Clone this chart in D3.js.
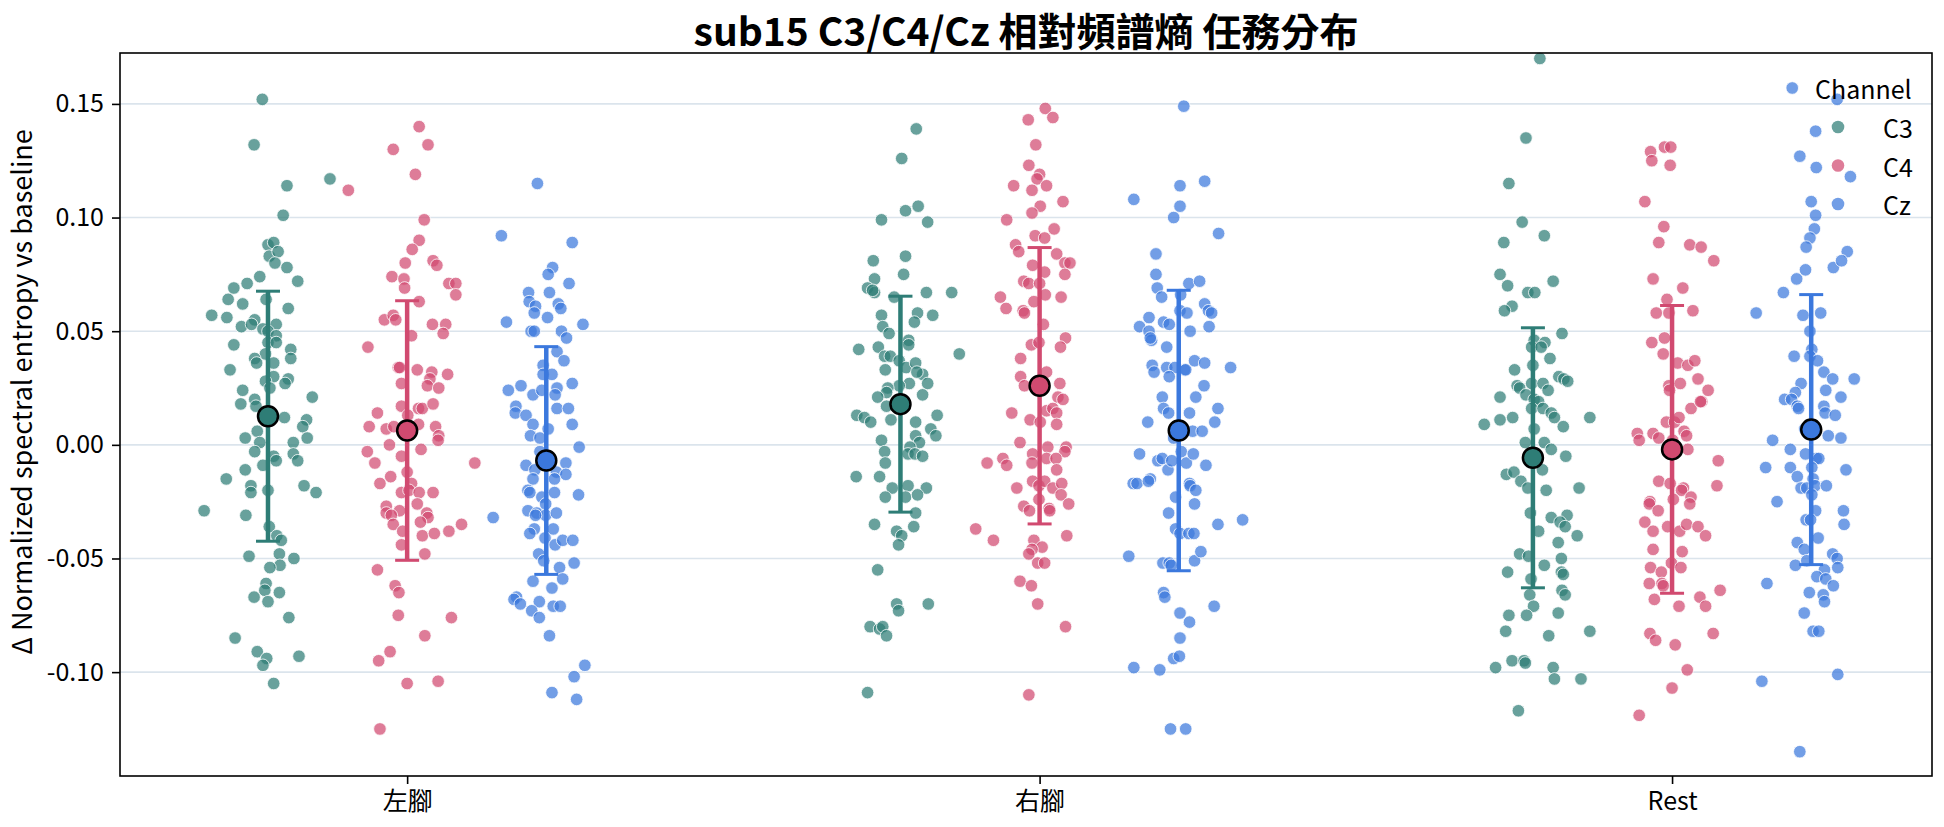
<!DOCTYPE html>
<html>
<head>
<meta charset="utf-8">
<script src="https://cdn.jsdelivr.net/npm/d3@7"></script>
<style>
  body { margin: 0; background: #fff; }
  text { font-family: "Noto Sans CJK TC", "Noto Sans", sans-serif; fill: #000; }
</style>
</head>
<body>
<div id="chart"></div>
<script>
// Categories, channels and axis ticks
const CATEGORIES = ["左腳", "右腳", "Rest"];
const CHANNELS = ["C3", "C4", "Cz"];
const Y_TICKS = [-0.10, -0.05, 0.00, 0.05, 0.10, 0.15];

// Mean and SD per channel, in category order (左腳, 右腳, Rest)
const MEAN_C3 = [0.0126, 0.0179, -0.0057];
const SD_C3 = [0.0550, 0.0475, 0.0572];
const MEAN_C4 = [0.0063, 0.0260, -0.0020];
const SD_C4 = [0.0571, 0.0608, 0.0633];
const MEAN_CZ = [-0.0069, 0.0063, 0.0067];
const SD_CZ = [0.0501, 0.0617, 0.0594];

// Trials as [jitter, value]; jitter is in category units
const LEFT_C3 = [[-0.009,0.152],[-0.022,0.132],[0.030,0.114],[0.098,0.117],[0.024,0.101],[0,0.088],[0.009,0.089],[0.002,0.083],[0.016,0.085],[0.011,0.080],[0.030,0.078],[0.047,0.072],[-0.013,0.074],[-0.033,0.071],[-0.054,0.069],[-0.063,0.064],[-0.040,0.062],[-0.003,0.064],[0.032,0.060],[-0.089,0.057],[-0.065,0.056],[-0.042,0.052],[-0.021,0.055],[-0.026,0.053],[-0.008,0.051],[0.013,0.053],[0,0.050],[0.013,0.048],[0,0.045],[0.013,0.045],[-0.054,0.044],[-0.004,0.040],[-0.021,0.038],[-0.018,0.036],[0.009,0.036],[0.036,0.042],[0.036,0.038],[-0.060,0.033],[0.009,0.030],[-0.004,0.028],[0.032,0.029],[0.027,0.027],[0.003,0.025],[-0.040,0.024],[-0.043,0.018],[-0.021,0.020],[-0.019,0.017],[0.070,0.021],[0.026,0.012],[0.061,0.011],[0.055,0.008],[0.062,0.003],[-0.036,0.003],[-0.017,0.006],[-0.013,0.001],[0.040,0.001],[-0.021,-0.003],[0.040,-0.004],[0.009,-0.005],[0.013,-0.007],[0.047,-0.007],[-0.008,-0.009],[-0.036,-0.011],[-0.066,-0.015],[-0.027,-0.018],[-0.027,-0.021],[0,-0.020],[0.057,-0.018],[0.076,-0.021],[-0.101,-0.029],[-0.035,-0.031],[0.002,-0.036],[0.014,-0.040],[0.021,-0.042],[0.018,-0.048],[-0.030,-0.049],[0.041,-0.050],[0.019,-0.053],[0.003,-0.054],[-0.003,-0.061],[-0.005,-0.064],[0.018,-0.065],[-0.022,-0.067],[0,-0.069],[0.033,-0.076],[-0.052,-0.085],[-0.017,-0.091],[-0.002,-0.094],[-0.008,-0.097],[0.049,-0.093],[0.009,-0.105]];
const LEFT_C4 = [[0.019,0.140],[-0.022,0.130],[0.033,0.132],[0.013,0.119],[-0.093,0.112],[0.027,0.099],[0.019,0.090],[0.008,0.086],[-0.003,0.080],[0.041,0.081],[0.047,0.079],[-0.024,0.074],[-0.005,0.073],[-0.004,0.069],[0.066,0.071],[0.077,0.071],[0.077,0.066],[0.019,0.063],[-0.036,0.055],[-0.022,0.057],[-0.018,0.055],[0.040,0.053],[0.061,0.053],[0.057,0.049],[0.007,0.048],[-0.062,0.043],[-0.014,0.034],[-0.012,0.034],[0.016,0.033],[0.039,0.032],[0.036,0.029],[0.064,0.031],[-0.009,0.027],[0.032,0.026],[0.050,0.025],[-0.009,0.017],[-0.047,0.014],[0.001,0.013],[0.018,0.016],[0.024,0.016],[0.041,0.018],[-0.060,0.008],[-0.033,0.007],[-0.021,0.008],[0.018,0.009],[0.045,0.008],[0.050,0.004],[0.049,0.002],[-0.028,0.000],[-0.063,-0.003],[-0.009,-0.005],[0.022,-0.002],[-0.051,-0.008],[0.107,-0.008],[0,-0.012],[-0.026,-0.014],[-0.043,-0.017],[0.007,-0.017],[-0.009,-0.021],[0.003,-0.020],[0.019,-0.021],[0.041,-0.021],[-0.033,-0.027],[-0.012,-0.029],[-0.033,-0.030],[-0.025,-0.031],[-0.022,-0.035],[0.016,-0.026],[0.031,-0.030],[0.033,-0.032],[0.021,-0.034],[-0.007,-0.038],[0.024,-0.040],[0.043,-0.039],[0.066,-0.038],[0.086,-0.035],[-0.009,-0.044],[0.028,-0.048],[-0.047,-0.055],[-0.019,-0.062],[-0.013,-0.065],[-0.014,-0.075],[0.070,-0.076],[0.028,-0.084],[-0.027,-0.091],[-0.045,-0.095],[0,-0.105],[0.049,-0.104],[-0.043,-0.125]];
const LEFT_CZ = [[-0.014,0.115],[-0.071,0.092],[0.041,0.089],[0.010,0.078],[0.003,0.075],[0.036,0.071],[-0.028,0.067],[0.005,0.067],[-0.027,0.063],[-0.017,0.061],[-0.019,0.058],[0.019,0.062],[0.023,0.060],[0.002,0.056],[-0.063,0.054],[0.058,0.053],[-0.024,0.050],[-0.019,0.050],[0.024,0.050],[0.032,0.047],[0.017,0.041],[0.028,0.037],[-0.005,0.035],[-0.005,0.031],[0.009,0.031],[-0.060,0.024],[-0.040,0.026],[-0.021,0.022],[-0.007,0.024],[0.017,0.025],[0.014,0.022],[0.041,0.027],[-0.048,0.017],[-0.049,0.014],[-0.032,0.013],[0.017,0.016],[0.035,0.016],[0.041,0.009],[-0.021,0.009],[-0.025,0.004],[-0.010,0.003],[0.003,0.007],[0.052,-0.001],[-0.010,-0.003],[-0.032,-0.009],[-0.018,-0.011],[-0.021,-0.015],[0.016,-0.012],[0.031,-0.008],[0.031,-0.013],[0.013,-0.015],[-0.029,-0.020],[-0.026,-0.021],[-0.007,-0.023],[0.013,-0.021],[0.051,-0.022],[-0.001,-0.026],[-0.029,-0.029],[-0.015,-0.030],[-0.001,-0.031],[0.016,-0.030],[-0.017,-0.031],[-0.019,-0.037],[-0.026,-0.039],[0.011,-0.037],[-0.002,-0.041],[0.014,-0.044],[0.026,-0.042],[0.042,-0.042],[-0.012,-0.048],[-0.004,-0.051],[0.044,-0.052],[0.021,-0.054],[0.026,-0.059],[-0.021,-0.060],[0.009,-0.063],[-0.047,-0.067],[-0.051,-0.068],[-0.041,-0.070],[-0.011,-0.069],[-0.023,-0.073],[-0.011,-0.076],[0.011,-0.071],[0.022,-0.071],[0.005,-0.084],[0.061,-0.097],[0.044,-0.102],[0.009,-0.109],[0.048,-0.112],[-0.084,-0.032]];
const RIGHT_C3 = [[0.025,0.139],[0.002,0.126],[-0.030,0.099],[0.008,0.103],[0.028,0.105],[0.043,0.098],[-0.043,0.081],[0.008,0.083],[0.005,0.075],[-0.041,0.073],[-0.052,0.069],[-0.041,0.067],[-0.044,0.068],[-0.010,0.065],[0.041,0.067],[0.081,0.067],[-0.030,0.057],[0.027,0.058],[0.022,0.054],[0.051,0.057],[-0.028,0.052],[-0.018,0.049],[0.013,0.046],[0.013,0.044],[-0.066,0.042],[-0.035,0.043],[-0.025,0.039],[-0.016,0.039],[-0.002,0.037],[0.009,0.034],[0.024,0.036],[-0.024,0.033],[0.035,0.031],[0.026,0.032],[0.043,0.027],[0.014,0.027],[-0.002,0.026],[-0.020,0.025],[-0.022,0.023],[-0.036,0.021],[0.035,0.022],[0.093,0.040],[-0.069,0.013],[-0.057,0.012],[-0.047,0.010],[-0.022,0.017],[-0.015,0.011],[0.024,0.010],[0.058,0.013],[0.024,0.004],[0.048,0.007],[0.056,0.004],[-0.030,0.002],[0.030,0.001],[0.015,-0.001],[0.012,-0.004],[0.023,-0.004],[0.035,-0.005],[-0.025,-0.003],[-0.024,-0.008],[-0.070,-0.014],[-0.033,-0.014],[0.012,-0.018],[0.041,-0.019],[-0.013,-0.019],[-0.024,-0.023],[0.008,-0.023],[0.027,-0.022],[-0.041,-0.035],[0.024,-0.030],[-0.006,-0.038],[0.002,-0.040],[0.021,-0.036],[-0.003,-0.044],[-0.036,-0.055],[-0.006,-0.070],[-0.003,-0.073],[0.044,-0.070],[-0.048,-0.080],[-0.033,-0.081],[-0.028,-0.080],[-0.022,-0.084],[-0.052,-0.109]];
const RIGHT_C4 = [[0.009,0.148],[-0.018,0.143],[0.021,0.144],[-0.006,0.132],[-0.017,0.123],[0,0.119],[-0.004,0.117],[0.011,0.114],[-0.041,0.114],[-0.012,0.112],[0.001,0.105],[0.037,0.107],[-0.012,0.102],[-0.052,0.099],[0.023,0.095],[-0.007,0.092],[0.008,0.091],[-0.038,0.088],[-0.033,0.085],[0.027,0.084],[-0.011,0.079],[0.008,0.076],[0.040,0.080],[0.048,0.080],[0.040,0.075],[-0.025,0.072],[-0.017,0.071],[0,0.071],[0.009,0.066],[0.034,0.065],[-0.062,0.065],[-0.053,0.060],[-0.026,0.059],[-0.024,0.058],[-0.009,0.063],[0.006,0.053],[0.041,0.047],[0.033,0.043],[-0.013,0.044],[-0.001,0.045],[-0.030,0.038],[-0.030,0.030],[-0.024,0.026],[0.011,0.032],[0.032,0.027],[0.029,0.021],[0.037,0.020],[-0.044,0.014],[-0.015,0.011],[0.001,0.010],[0.011,0.015],[0.021,0.016],[0.027,0.014],[0.027,0.009],[-0.031,0.001],[-0.011,-0.004],[0.013,-0.001],[0.042,-0.001],[0.040,-0.003],[-0.083,-0.008],[-0.058,-0.006],[-0.052,-0.009],[-0.012,-0.008],[0.011,-0.006],[0.026,-0.006],[0.027,-0.011],[-0.011,-0.016],[-0.001,-0.018],[0.008,-0.016],[0.021,-0.019],[0.035,-0.017],[-0.036,-0.019],[0.034,-0.022],[0.046,-0.026],[-0.001,-0.024],[-0.025,-0.027],[-0.016,-0.029],[0.015,-0.028],[0.016,-0.029],[-0.101,-0.037],[-0.073,-0.042],[-0.009,-0.042],[0.004,-0.045],[-0.012,-0.046],[-0.017,-0.048],[-0.003,-0.052],[0.008,-0.052],[0.043,-0.040],[-0.031,-0.060],[-0.013,-0.062],[-0.003,-0.070],[0.041,-0.080],[-0.017,-0.110]];
const RIGHT_CZ = [[0.008,0.149],[0.002,0.114],[0.041,0.116],[-0.071,0.108],[0.002,0.105],[-0.008,0.100],[0.063,0.093],[-0.036,0.084],[-0.036,0.075],[-0.034,0.069],[-0.027,0.065],[0.016,0.071],[0.033,0.072],[0.003,0.066],[0.002,0.059],[0.013,0.058],[0.041,0.062],[0.047,0.059],[0.052,0.058],[-0.047,0.056],[-0.024,0.054],[-0.015,0.053],[-0.062,0.052],[-0.047,0.050],[0.018,0.050],[0.048,0.052],[-0.043,0.046],[-0.045,0.047],[-0.019,0.043],[-0.042,0.035],[-0.039,0.032],[-0.019,0.034],[-0.006,0.034],[0.009,0.033],[0.011,0.033],[-0.015,0.030],[0.025,0.037],[0.041,0.036],[0.082,0.034],[0.040,0.026],[-0.026,0.021],[0.027,0.021],[-0.024,0.016],[-0.016,0.014],[0.017,0.014],[0.062,0.016],[-0.049,0.010],[0.057,0.010],[0.022,0.006],[0.037,0.006],[-0.008,0.003],[-0.062,-0.004],[-0.033,-0.007],[-0.026,-0.006],[-0.017,-0.011],[-0.011,-0.007],[0.004,-0.003],[0.012,-0.008],[0.023,-0.004],[0.043,-0.009],[-0.072,-0.017],[-0.066,-0.017],[-0.045,-0.015],[-0.048,-0.016],[0.017,-0.017],[0.018,-0.018],[0.027,-0.020],[-0.005,-0.023],[0.025,-0.026],[-0.016,-0.030],[-0.005,-0.037],[0.002,-0.039],[0.016,-0.039],[0.024,-0.039],[0.062,-0.035],[0.101,-0.033],[-0.079,-0.049],[-0.025,-0.052],[-0.015,-0.052],[-0.012,-0.053],[0.025,-0.051],[0.035,-0.047],[-0.024,-0.065],[-0.022,-0.067],[0.002,-0.074],[0.017,-0.078],[0.056,-0.071],[0.002,-0.085],[-0.008,-0.094],[0.001,-0.093],[-0.071,-0.098],[-0.030,-0.099],[-0.013,-0.125],[0.011,-0.125]];
const REST_C3 = [[0.011,0.170],[-0.011,0.135],[-0.038,0.115],[-0.017,0.098],[0.018,0.092],[-0.046,0.089],[-0.052,0.075],[-0.040,0.070],[0.032,0.072],[-0.008,0.067],[0.003,0.067],[-0.033,0.061],[-0.045,0.059],[0.046,0.049],[0.002,0.046],[0.019,0.045],[-0.002,0.043],[0.013,0.043],[0.027,0.038],[-0.029,0.033],[0,0.035],[0.041,0.030],[0.049,0.029],[0.055,0.028],[-0.025,0.026],[-0.021,0.025],[-0.002,0.027],[0.016,0.027],[0.024,0.024],[-0.011,0.022],[-0.052,0.021],[0.002,0.020],[0.009,0.019],[-0.002,0.016],[0.016,0.016],[0.029,0.014],[0.034,0.012],[-0.077,0.009],[-0.052,0.011],[-0.032,0.012],[0.002,0.007],[0.048,0.008],[0.090,0.012],[-0.012,0.001],[0.018,0.001],[0.029,-0.002],[0.052,-0.005],[-0.042,-0.013],[-0.030,-0.012],[-0.019,-0.016],[0.015,-0.011],[-0.008,-0.019],[0.021,-0.020],[0.073,-0.019],[-0.004,-0.030],[0.029,-0.032],[0.054,-0.031],[0.043,-0.034],[0.051,-0.036],[0.070,-0.040],[0.009,-0.038],[0.040,-0.043],[-0.021,-0.048],[-0.007,-0.049],[0.045,-0.050],[0.018,-0.053],[-0.040,-0.056],[0.045,-0.056],[0.048,-0.057],[-0.003,-0.059],[0.046,-0.064],[0.051,-0.066],[-0.005,-0.066],[0.001,-0.071],[-0.038,-0.075],[-0.010,-0.075],[0.040,-0.074],[-0.043,-0.082],[0.025,-0.084],[0.090,-0.082],[-0.059,-0.098],[-0.033,-0.095],[-0.014,-0.095],[-0.012,-0.096],[0.032,-0.098],[0.034,-0.103],[0.076,-0.103],[-0.023,-0.117]];
const REST_C4 = [[-0.034,0.129],[-0.012,0.131],[-0.002,0.131],[-0.032,0.125],[-0.003,0.123],[-0.043,0.107],[-0.013,0.096],[-0.021,0.089],[0.028,0.088],[0.046,0.087],[0.066,0.081],[-0.030,0.073],[0.017,0.069],[-0.008,0.064],[-0.025,0.058],[-0.005,0.058],[0.033,0.059],[-0.032,0.045],[-0.012,0.047],[-0.014,0.040],[0.009,0.036],[0.025,0.035],[0.036,0.037],[0.041,0.029],[0.057,0.024],[-0.005,0.026],[-0.004,0.024],[0.013,0.027],[0.030,0.016],[0.047,0.019],[0.045,0.019],[-0.055,0.005],[-0.052,0.002],[-0.030,0.005],[-0.021,0.003],[-0.009,0.010],[0.004,0.010],[0.011,0.012],[0.019,0.006],[0.023,0.004],[0.001,0.002],[0.025,-0.002],[0.073,-0.007],[-0.021,-0.016],[-0.003,-0.017],[0.018,-0.019],[0.015,-0.020],[0.030,-0.023],[0.028,-0.026],[0.002,-0.024],[-0.035,-0.025],[-0.036,-0.026],[-0.022,-0.029],[-0.043,-0.034],[-0.030,-0.038],[-0.007,-0.036],[0.012,-0.038],[0.023,-0.035],[0.041,-0.036],[0.053,-0.040],[-0.030,-0.046],[0.016,-0.047],[0.071,-0.018],[-0.034,-0.054],[-0.017,-0.056],[-0.001,-0.052],[0.014,-0.054],[-0.036,-0.061],[-0.016,-0.061],[-0.014,-0.062],[-0.028,-0.068],[0.011,-0.071],[0.044,-0.067],[0.053,-0.071],[0.076,-0.064],[-0.035,-0.083],[-0.026,-0.086],[0.005,-0.088],[0.065,-0.083],[0.024,-0.099],[0,-0.107],[-0.052,-0.119]];
const REST_CZ = [[-0.030,0.157],[0.041,0.152],[0.007,0.138],[-0.018,0.127],[0.008,0.122],[0.062,0.118],[0,0.107],[0.007,0.101],[0.005,0.095],[-0.002,0.091],[-0.008,0.087],[0.057,0.085],[0.035,0.078],[0.048,0.081],[-0.009,0.077],[-0.023,0.073],[-0.044,0.067],[-0.087,0.058],[-0.013,0.057],[0.015,0.058],[-0.002,0.050],[0.001,0.042],[-0.002,0.039],[-0.027,0.039],[0.010,0.037],[0.020,0.032],[0.034,0.029],[0.068,0.029],[-0.016,0.027],[-0.025,0.023],[-0.042,0.020],[-0.031,0.020],[0.023,0.024],[0.047,0.021],[-0.022,0.017],[-0.020,0.016],[0.020,0.017],[0.022,0.014],[0.038,0.013],[-0.010,0.007],[0.027,0.004],[0.047,0.003],[-0.061,0.002],[-0.033,-0.002],[-0.009,-0.004],[0.008,-0.006],[0.012,-0.006],[-0.072,-0.010],[-0.033,-0.010],[0.001,-0.010],[0.055,-0.011],[-0.022,-0.014],[0.003,-0.015],[-0.016,-0.019],[-0.007,-0.019],[0.006,-0.018],[0.024,-0.018],[0.001,-0.022],[-0.054,-0.025],[0.007,-0.029],[0.051,-0.029],[-0.008,-0.033],[-0.001,-0.033],[0.052,-0.035],[0.011,-0.041],[-0.022,-0.043],[-0.011,-0.046],[0.034,-0.048],[0.041,-0.050],[-0.025,-0.053],[-0.007,-0.051],[0.042,-0.054],[0.021,-0.055],[0.009,-0.058],[0.023,-0.059],[0.035,-0.062],[-0.070,-0.061],[-0.003,-0.065],[0.019,-0.066],[0.021,-0.069],[-0.011,-0.074],[0.003,-0.082],[0.012,-0.082],[-0.078,-0.104],[0.042,-0.101],[-0.018,-0.135]];

// Layout settings
const CONFIG = {
  container: "#chart",
  width: 1944,
  height: 827,
  margin: { top: 53, right: 12, bottom: 51, left: 120 },
  xDomain: [-0.454, 2.411],
  yDomain: [-0.1457, 0.1724],
  dodge: 0.22,
  pointR: 6.3,
  meanR: 10,
  colors: { C3: "#2e7d76", C4: "#d14a70", Cz: "#3b78dd" }
};

// Group the named arrays into one table per channel
const SERIES = [
  { channel: "C3", groups: [LEFT_C3, RIGHT_C3, REST_C3], mean: MEAN_C3, sd: SD_C3 },
  { channel: "C4", groups: [LEFT_C4, RIGHT_C4, REST_C4], mean: MEAN_C4, sd: SD_C4 },
  { channel: "Cz", groups: [LEFT_CZ, RIGHT_CZ, REST_CZ], mean: MEAN_CZ, sd: SD_CZ }
];

function render() {
  const { width, height, margin } = CONFIG;
  const left = margin.left, right = width - margin.right;
  const top = margin.top, bottom = height - margin.bottom;

  const svg = d3.select(CONFIG.container).append("svg")
    .attr("width", width)
    .attr("height", height);

  const x = d3.scaleLinear().domain(CONFIG.xDomain).range([left, right]);
  const y = d3.scaleLinear().domain(CONFIG.yDomain).range([bottom, top]);

  // horizontal grid
  svg.append("g").selectAll("line")
    .data(Y_TICKS)
    .join("line")
    .attr("x1", left).attr("x2", right)
    .attr("y1", d => y(d)).attr("y2", d => y(d))
    .attr("stroke", "#dbe4ec")
    .attr("stroke-width", 1.6);

  // jittered points
  const pts = [];
  SERIES.forEach((s, hi) => {
    s.groups.forEach((arr, ci) => {
      arr.forEach(([j, v]) => pts.push({ ch: s.channel, pos: ci + CONFIG.dodge * (hi - 1) + j, v }));
    });
  });

  svg.append("g").selectAll("circle")
    .data(pts)
    .join("circle")
    .attr("cx", d => x(d.pos))
    .attr("cy", d => y(d.v))
    .attr("r", CONFIG.pointR)
    .attr("fill", d => CONFIG.colors[d.ch])
    .attr("fill-opacity", 0.72)
    .attr("stroke", "#fff")
    .attr("stroke-width", 0.8);

  // mean ± SD
  const summ = [];
  SERIES.forEach((s, hi) => {
    CATEGORIES.forEach((c, ci) => {
      summ.push({ ch: s.channel, pos: ci + CONFIG.dodge * (hi - 1), mean: s.mean[ci], sd: s.sd[ci] });
    });
  });

  const eb = svg.append("g").selectAll("g")
    .data(summ)
    .join("g")
    .attr("stroke", d => CONFIG.colors[d.ch]);

  eb.append("line")
    .attr("x1", d => x(d.pos)).attr("x2", d => x(d.pos))
    .attr("y1", d => y(d.mean - d.sd)).attr("y2", d => y(d.mean + d.sd))
    .attr("stroke-width", 4.5);

  [-1, 1].forEach(sign => {
    eb.append("line")
      .attr("x1", d => x(d.pos) - 12).attr("x2", d => x(d.pos) + 12)
      .attr("y1", d => y(d.mean + sign * d.sd)).attr("y2", d => y(d.mean + sign * d.sd))
      .attr("stroke-width", 3);
  });

  svg.append("g").selectAll("circle")
    .data(summ)
    .join("circle")
    .attr("cx", d => x(d.pos))
    .attr("cy", d => y(d.mean))
    .attr("r", CONFIG.meanR)
    .attr("fill", d => CONFIG.colors[d.ch])
    .attr("stroke", "#000")
    .attr("stroke-width", 2.5);

  // axes
  const yAxis = svg.append("g")
    .attr("transform", `translate(${left},0)`)
    .call(d3.axisLeft(y).tickValues(Y_TICKS).tickFormat(d => d.toFixed(2)).tickSize(8).tickPadding(8));

  const xAxis = svg.append("g")
    .attr("transform", `translate(0,${bottom})`)
    .call(d3.axisBottom(x).tickValues([0, 1, 2]).tickFormat(i => CATEGORIES[i]).tickSize(8).tickPadding(8));

  [yAxis, xAxis].forEach(g => {
    g.select(".domain").remove();
    g.selectAll(".tick line").attr("stroke", "#000").attr("stroke-width", 1.6);
    g.selectAll(".tick text").attr("font-size", 25).attr("font-family", null).attr("fill", "#000");
  });

  svg.append("rect")
    .attr("x", left).attr("y", top)
    .attr("width", right - left).attr("height", bottom - top)
    .attr("fill", "none")
    .attr("stroke", "#000")
    .attr("stroke-width", 1.6);

  // labels
  svg.append("text")
    .attr("x", (left + right) / 2)
    .attr("y", 29)
    .attr("text-anchor", "middle")
    .attr("dominant-baseline", "central")
    .attr("font-size", 39)
    .attr("font-weight", "bold")
    .text("sub15 C3/C4/Cz 相對頻譜熵 任務分布");

  svg.append("text")
    .attr("transform", "translate(20,392) rotate(-90)")
    .attr("text-anchor", "middle")
    .attr("dominant-baseline", "central")
    .attr("font-size", 27)
    .text("Δ Normalized spectral entropy vs baseline");

  // legend
  const lg = svg.append("g");
  lg.append("text")
    .attr("x", 1815).attr("y", 88)
    .attr("dominant-baseline", "central")
    .attr("font-size", 25)
    .text("Channel");

  const items = lg.selectAll("g.item")
    .data(CHANNELS)
    .join("g")
    .attr("class", "item")
    .attr("transform", (d, i) => `translate(0,${127 + i * 38.5})`);

  items.append("circle")
    .attr("cx", 1838).attr("cy", 0)
    .attr("r", CONFIG.pointR)
    .attr("fill", d => CONFIG.colors[d])
    .attr("fill-opacity", 0.72);

  items.append("text")
    .attr("x", 1883).attr("y", 0)
    .attr("dominant-baseline", "central")
    .attr("font-size", 25)
    .text(d => d);
}

render();
</script>
</body>
</html>
